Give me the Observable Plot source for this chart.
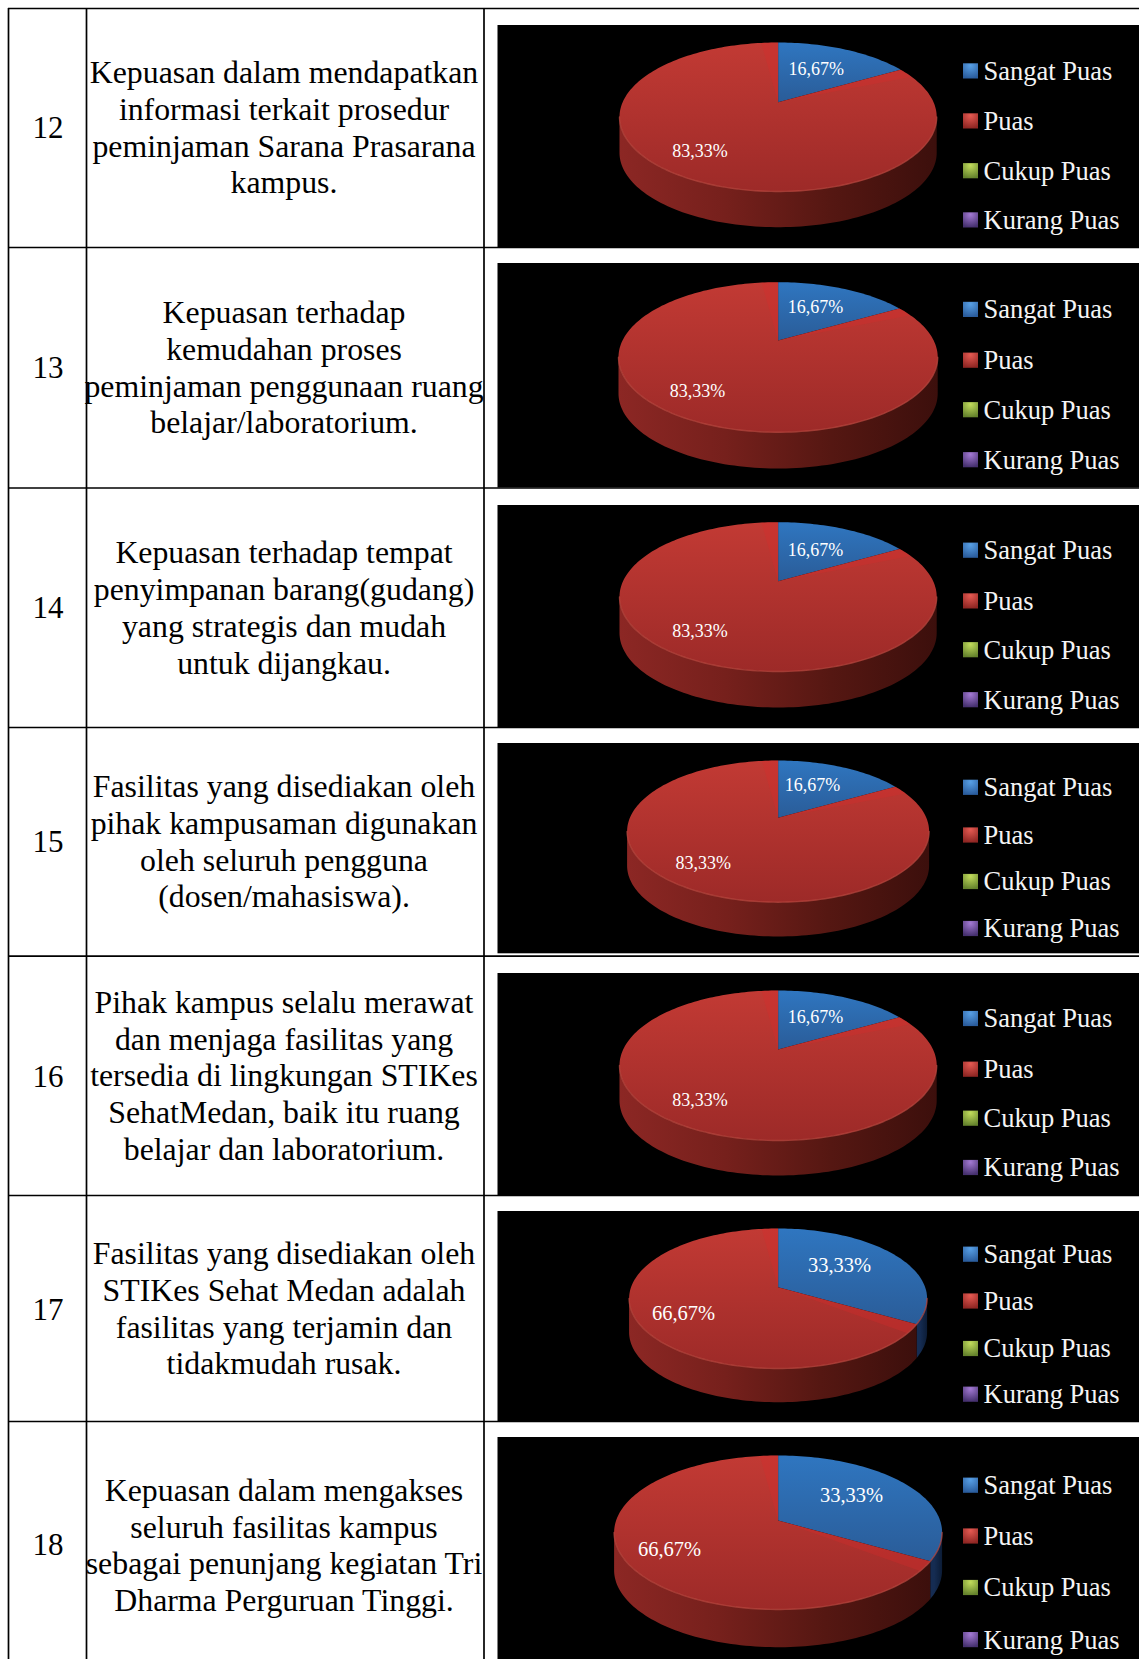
<!DOCTYPE html>
<html>
<head>
<meta charset="utf-8">
<script src="https://cdn.jsdelivr.net/npm/d3@7"></script>
<script src="https://cdn.jsdelivr.net/npm/@observablehq/plot@0.6"></script>
<style>
  html, body { margin: 0; padding: 0; background: #fff; }
  svg { display: block; }
  /* the pie shapes have slightly soft edges */
  svg g[aria-label="line"] { filter: blur(0.7px); }
</style>
</head>
<body>
<div id="chart"></div>
<script>
// Survey data: one entry per questionnaire item
const itemNumbers = ["12", "13", "14", "15", "16", "17", "18"];
const itemStatements = [
  ["Kepuasan dalam mendapatkan", "informasi terkait prosedur", "peminjaman Sarana Prasarana", "kampus."],
  ["Kepuasan terhadap", "kemudahan proses", "peminjaman penggunaan ruang", "belajar/laboratorium."],
  ["Kepuasan terhadap tempat", "penyimpanan barang(gudang)", "yang strategis dan mudah", "untuk dijangkau."],
  ["Fasilitas yang disediakan oleh", "pihak kampusaman digunakan", "oleh seluruh pengguna", "(dosen/mahasiswa)."],
  ["Pihak kampus selalu merawat", "dan menjaga fasilitas yang", "tersedia di lingkungan STIKes", "SehatMedan, baik itu ruang", "belajar dan laboratorium."],
  ["Fasilitas yang disediakan oleh", "STIKes Sehat Medan adalah", "fasilitas yang terjamin dan", "tidakmudah rusak."],
  ["Kepuasan dalam mengakses", "seluruh fasilitas kampus", "sebagai penunjang kegiatan Tri", "Dharma Perguruan Tinggi."]
];
const categories = ["Sangat Puas", "Puas", "Cukup Puas", "Kurang Puas"];
const sangatPuas = [16.67, 16.67, 16.67, 16.67, 16.67, 33.33, 33.33];
const puas = [83.33, 83.33, 83.33, 83.33, 83.33, 66.67, 66.67];
const cukupPuas = [0, 0, 0, 0, 0, 0, 0];
const kurangPuas = [0, 0, 0, 0, 0, 0, 0];
const seriesValues = [sangatPuas, puas, cukupPuas, kurangPuas];

// Table layout
const width = 1139, height = 1659;
const columnLines = [8, 86, 483.5];
const rowLines = [8, 247, 487.5, 727, 955.7, 1195, 1421];
const numberX = 47.6, statementX = 283.5;
const numberY = [128, 368, 608, 842, 1077, 1310, 1545];
const statementY = [
  [72, 109, 146, 182],
  [312, 349, 386, 422],
  [552, 589, 626, 663],
  [786, 823, 860, 896],
  [1002, 1039, 1075, 1112, 1149],
  [1253, 1290, 1327, 1363],
  [1490, 1527, 1563, 1600]
];

// Black chart panels
const panelLeft = 497.5;
const panelTop = [25, 263, 505, 743, 973, 1211, 1437];
const panelBottom = [247, 487.5, 727, 953.3, 1195, 1421, 1659];

// Pie geometry per row: rim top, apex, rim bottom, base bottom, half width
const pieCx = 777.6;
const pieTop = [42, 281.7, 521.7, 760, 990, 1228, 1455];
const pieApex = [101.7, 340, 580.7, 817.3, 1049, 1286.7, 1520];
const pieRimBottom = [191, 431.7, 671, 901.7, 1140, 1368, 1609];
const pieBase = [226.7, 468, 707, 936, 1175, 1401.7, 1646.7];
const pieHalfWidth = [158.6, 159.6, 158.6, 151, 158.6, 149, 164];

// Value label centres [first slice, second slice]
const labelX = [[815.8, 699.4], [815, 697], [815, 699.4], [812, 702.7], [815, 699.4], [839, 683], [851, 669]];
const labelY = [[68.5, 151], [306.8, 391], [549.5, 631], [785.2, 862.5], [1016.8, 1099.5], [1264.5, 1313], [1494.5, 1549]];
const labelSize = [18, 18, 18, 18, 18, 20.5, 20.5];

// Legend row centres
const legendY = [
  [70.9, 120.9, 170.7, 219.9],
  [309.4, 360.2, 409.7, 459.7],
  [550.2, 600.9, 649.7, 699.7],
  [787.3, 835, 881.5, 928.5],
  [1018.5, 1069.2, 1118.2, 1167.5],
  [1254.2, 1301, 1348.5, 1394.2],
  [1485.2, 1536, 1587.5, 1639.6]
];
const swatchX1 = 963, swatchX2 = 978, swatchHalf = 7.6, legendTextX = 983;

// Gradient stops for each category: face [top, bottom], side, swatch
const faceStops = [["#2f76c0", "#2a5c98"], ["#c23a34", "#9d2a28"], ["#8fb33f", "#6d8a2e"], ["#7a58a8", "#553c7c"]];
const sideStops = [
  ["#152c52", "#152c52", "#102444", "#0c1c36"],
  ["#8c2724", "#76201c", "#551712", "#3c0f0c"],
  ["#5a7020", "#4c6018", "#3a4a12", "#2a360c"],
  ["#4a3070", "#3e2860", "#30204c", "#221638"]
];
const swatchStops = [["#58a0e6", "#2a5c9c"], ["#e65a52", "#8e2623"], ["#c2dc5c", "#64822c"], ["#a47ad4", "#45306e"]];

// Projected outline of a tilted disc: the far half is compressed against the near half
function projector(i) {
  const up = pieApex[i] - pieTop[i], down = pieRimBottom[i] - pieApex[i];
  const a = 2 / (1 / up + 1 / down);
  const k = a / up - 1;
  const r = pieHalfWidth[i] * Math.sqrt(1 - k * k);
  return {
    k,
    at(theta, drop = 0) {
      const w = 1 + k * Math.cos(theta);
      return {x: pieCx + r * Math.sin(theta) / w, y: pieApex[i] - a * Math.cos(theta) / w + drop};
    }
  };
}

function arc(p, a0, a1, drop = 0) {
  const n = Math.max(2, Math.ceil((a1 - a0) / (Math.PI / 120)));
  return d3.range(n + 1).map((j) => p.at(a0 + (a1 - a0) * j / n, drop));
}

const TAU = Math.PI * 2;
const facePoints = categories.map(() => []);
const sidePoints = categories.map(() => []);
const rimPoints = [];
const glowPoints = [];

itemNumbers.forEach((item, i) => {
  const p = projector(i);
  const depth = pieBase[i] - pieRimBottom[i];
  const front0 = Math.acos(-p.k), front1 = TAU - front0;
  let start = 0;
  rimPoints.push(...arc(p, front0, front1).map((d) => ({...d, row: item})));
  seriesValues.forEach((values, c) => {
    const end = start + values[i] / 100 * TAU;
    if (values[i] > 0) {
      const outline = [{x: pieCx, y: pieApex[i]}, ...arc(p, start, end)];
      facePoints[c].push(...outline.map((d) => ({...d, row: item})));
      const s0 = Math.max(start, front0), s1 = Math.min(end, front1);
      if (s1 > s0) {
        const wall = [...arc(p, s0, s1), ...arc(p, s0, s1, depth).reverse()];
        sidePoints[c].push(...wall.map((d) => ({...d, row: item})));
      }
      // brighter bevel just inside the second slice's straight edges
      if (c === 1) {
        const bevel = 0.13;
        [[start, start + bevel], [end - bevel, end]].forEach(([b0, b1], e) => {
          const wedge = [{x: pieCx, y: pieApex[i]}, ...arc(p, b0, b1)];
          glowPoints.push(...wedge.map((d) => ({...d, row: `${item}-${e}`})));
        });
      }
    }
    start = end;
  });
});

const number = (v) => v.toFixed(2).replace(".", ",") + "%";

const numberRows = itemNumbers.map((text, i) => ({text, x: numberX, y: numberY[i]}));
const statementRows = itemStatements.flatMap((lines, i) => lines.map((text, j) => ({text, x: statementX, y: statementY[i][j]})));
const panels = panelTop.map((y1, i) => ({x1: panelLeft, x2: width, y1, y2: panelBottom[i]}));
const valueLabels = itemNumbers.flatMap((_, i) => [sangatPuas, puas].map((values, c) => ({
  text: number(values[i]), x: labelX[i][c], y: labelY[i][c], size: labelSize[i]
})));
const legendRows = itemNumbers.flatMap((_, i) => categories.map((name, c) => ({name, c, y: legendY[i][c]})));

function gradients() {
  const defs = d3.create("svg:defs");
  const linear = (id, stops, horizontal) => {
    const g = defs.append("linearGradient").attr("id", id)
      .attr("x1", 0).attr("y1", 0).attr("x2", horizontal ? 1 : 0).attr("y2", horizontal ? 0 : 1);
    stops.forEach((color, j) => g.append("stop").attr("offset", j / (stops.length - 1)).attr("stop-color", color));
  };
  categories.forEach((_, c) => {
    linear(`face${c}`, faceStops[c], false);
    linear(`side${c}`, sideStops[c], true);
    const s = defs.append("radialGradient").attr("id", `swatch${c}`)
      .attr("cx", 0.5).attr("cy", 0.15).attr("r", 0.85);
    s.append("stop").attr("offset", 0).attr("stop-color", swatchStops[c][0]);
    s.append("stop").attr("offset", 1).attr("stop-color", swatchStops[c][1]);
  });
  return defs.node();
}

const serif = "'Liberation Serif', 'Times New Roman', serif";

const plot = Plot.plot({
  width, height,
  margin: 0,
  x: {domain: [0, width], range: [0, width], axis: null},
  y: {domain: [0, height], range: [0, height], axis: null},
  style: {background: "#fff"},
  marks: [
    gradients,
    Plot.rect(panels, {x1: "x1", x2: "x2", y1: "y1", y2: "y2", fill: "#000"}),
    ...categories.map((_, c) => Plot.line(sidePoints[c], {x: "x", y: "y", z: "row", fill: `url(#side${c})`, stroke: "none"})),
    ...categories.map((_, c) => Plot.line(facePoints[c], {x: "x", y: "y", z: "row", fill: `url(#face${c})`, stroke: "none"})),
    Plot.line(glowPoints, {x: "x", y: "y", z: "row", fill: "#d92b2a", fillOpacity: 0.3, stroke: "none"}),
    Plot.line(rimPoints, {x: "x", y: "y", z: "row", stroke: "#b8473f", strokeWidth: 1.4, strokeOpacity: 0.75}),
    Plot.text(valueLabels, {x: "x", y: "y", text: "text", fontSize: "size", fontFamily: serif, fill: "#fff", textAnchor: "middle", lineAnchor: "middle"}),
    ...categories.map((_, c) => Plot.rect(legendRows.filter((d) => d.c === c), {
      x1: () => swatchX1, x2: () => swatchX2,
      y1: (d) => d.y - swatchHalf, y2: (d) => d.y + swatchHalf,
      fill: `url(#swatch${c})`
    })),
    Plot.text(legendRows, {x: () => legendTextX, y: "y", text: "name", fontSize: 26.5, fontFamily: serif, fill: "#f4f4f4", textAnchor: "start", lineAnchor: "middle"}),
    Plot.ruleX(columnLines, {y1: rowLines[0], y2: height, stroke: "#000", strokeWidth: 1.7}),
    Plot.ruleY(rowLines, {x1: columnLines[0], x2: width, stroke: "#000", strokeWidth: 1.7}),
    Plot.text(numberRows, {x: "x", y: "y", text: "text", fontSize: 31, fontFamily: serif, fill: "#000", textAnchor: "middle", lineAnchor: "middle"}),
    Plot.text(statementRows, {x: "x", y: "y", text: "text", fontSize: 31.8, fontFamily: serif, fill: "#000", textAnchor: "middle", lineAnchor: "middle"})
  ]
});
document.getElementById("chart").append(plot);
</script>
</body>
</html>
